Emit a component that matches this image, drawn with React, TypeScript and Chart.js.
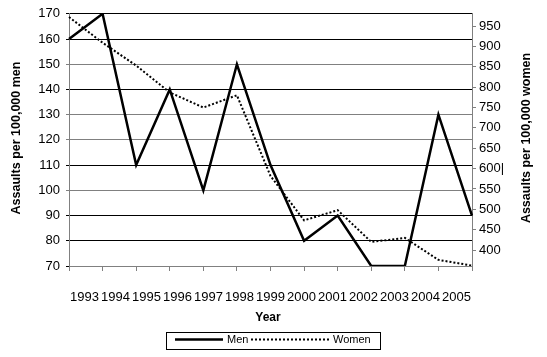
import React, { useEffect, useRef } from 'react';
import { Chart, registerables } from 'chart.js';

Chart.register(...registerables);

const years = ['1993', '1994', '1995', '1996', '1997', '1998', '1999', '2000', '2001', '2002', '2003', '2004', '2005'];
const men = [160, 170, 110, 140, 100, 150, 110, 80, 90, 70, 70, 130, 90];
const women = [972, 909, 853, 787, 750, 780, 582, 473, 498, 420, 430, 376, 362];
const womenTickValues = [400, 450, 500, 550, 600, 650, 700, 750, 800, 850, 900, 950];
const grayGridValues = [150, 130, 120, 100];

const FONT = '"Liberation Sans", Arial, sans-serif';

export default function App() {
  const ref = useRef<HTMLCanvasElement>(null);

  useEffect(() => {
    document.body.style.margin = '0';
    const canvas = ref.current;
    if (!canvas) return;

    const decorations = {
      id: 'decorations',
      afterDraw(chart: any) {
        const ctx = chart.ctx;
        ctx.save();
        ctx.fillStyle = '#000';
        ctx.textAlign = 'center';
        ctx.textBaseline = 'middle';
        ctx.font = `bold 12.5px ${FONT}`;
        ctx.save();
        ctx.translate(17, 138);
        ctx.rotate(-Math.PI / 2);
        ctx.fillText('Assaults per 100,000 men', 0, 0);
        ctx.restore();
        ctx.save();
        ctx.translate(527, 138);
        ctx.rotate(-Math.PI / 2);
        ctx.fillText('Assaults per 100,000 women', 0, 0);
        ctx.restore();
        ctx.font = `bold 12px ${FONT}`;
        ctx.fillText('Year', 268, 318);

        // legend box
        ctx.fillStyle = '#fff';
        ctx.fillRect(166, 332, 214, 17);
        ctx.strokeStyle = '#000';
        ctx.lineWidth = 1;
        ctx.strokeRect(166.5, 332.5, 214, 17);
        ctx.lineWidth = 2.5;
        ctx.beginPath();
        ctx.moveTo(175, 339.5);
        ctx.lineTo(223, 339.5);
        ctx.stroke();
        ctx.lineWidth = 2;
        ctx.setLineDash([2, 2]);
        ctx.beginPath();
        ctx.moveTo(251, 339.5);
        ctx.lineTo(330, 339.5);
        ctx.stroke();
        ctx.setLineDash([]);
        ctx.fillStyle = '#000';
        ctx.textAlign = 'left';
        ctx.font = `11px ${FONT}`;
        ctx.fillText('Men', 227, 340);
        ctx.fillText('Women', 333, 340);
        ctx.restore();
      },
    };

    const chart = new Chart(canvas, {
      type: 'line',
      data: {
        labels: years,
        datasets: [
          {
            label: 'Men',
            data: men,
            borderColor: '#000',
            borderWidth: 2.5,
            pointRadius: 0,
            tension: 0,
            yAxisID: 'y',
            xAxisID: 'x',
          },
          {
            label: 'Women',
            data: women,
            borderColor: '#000',
            borderWidth: 2,
            borderDash: [2, 2],
            pointRadius: 0,
            tension: 0,
            yAxisID: 'y2',
            xAxisID: 'x',
          },
        ],
      },
      options: {
        animation: false,
        responsive: false,
        layout: { padding: { top: 13, bottom: 46, left: 0, right: 0 } },
        plugins: { legend: { display: false }, tooltip: { enabled: false } },
        scales: {
          x: {
            type: 'category',
            position: 'bottom',
            offset: false,
            grid: { drawOnChartArea: false, color: '#808080', tickLength: 5 },
            border: { color: '#808080', width: 1 },
            ticks: { display: false },
            afterFit(scale: any) { scale.height = 5; },
          },
          x2: {
            type: 'category',
            position: 'bottom',
            offset: true,
            labels: years,
            grid: { display: false, drawTicks: false },
            border: { display: false },
            ticks: { color: '#000', font: { family: FONT, size: 13 }, padding: 19, maxRotation: 0, autoSkip: false },
            afterFit(scale: any) { scale.height = 40; },
          },
          y: {
            position: 'left',
            min: 70,
            max: 170,
            ticks: { stepSize: 10, color: '#000', font: { family: FONT, size: 13 }, padding: 6 },
            grid: {
              color: (c: any) => (grayGridValues.includes(c.tick?.value) ? '#808080' : '#000'),
              tickLength: 3,
            },
            border: { color: '#808080', width: 1 },
            afterFit(scale: any) { scale.width = 69; },
          },
          y2: {
            position: 'right',
            min: 361,
            max: 980,
            afterBuildTicks(scale: any) {
              scale.ticks = womenTickValues.map((v) => ({ value: v }));
            },
            ticks: {
              color: '#000',
              font: { family: FONT, size: 13 },
              padding: 3,
              callback: (v: any) => (v === 600 ? '600|' : String(v)),
            },
            grid: { drawOnChartArea: false, color: '#808080', tickLength: 4 },
            border: { color: '#808080', width: 1 },
            afterFit(scale: any) { scale.width = 75; },
          },
        },
      },
      plugins: [decorations],
    });

    return () => chart.destroy();
  }, []);

  return (
    <div style={{ position: 'fixed', left: 0, top: 0, width: 547, height: 357, background: '#fff' }}>
      <canvas ref={ref} width={547} height={357} style={{ display: 'block' }} />
    </div>
  );
}
